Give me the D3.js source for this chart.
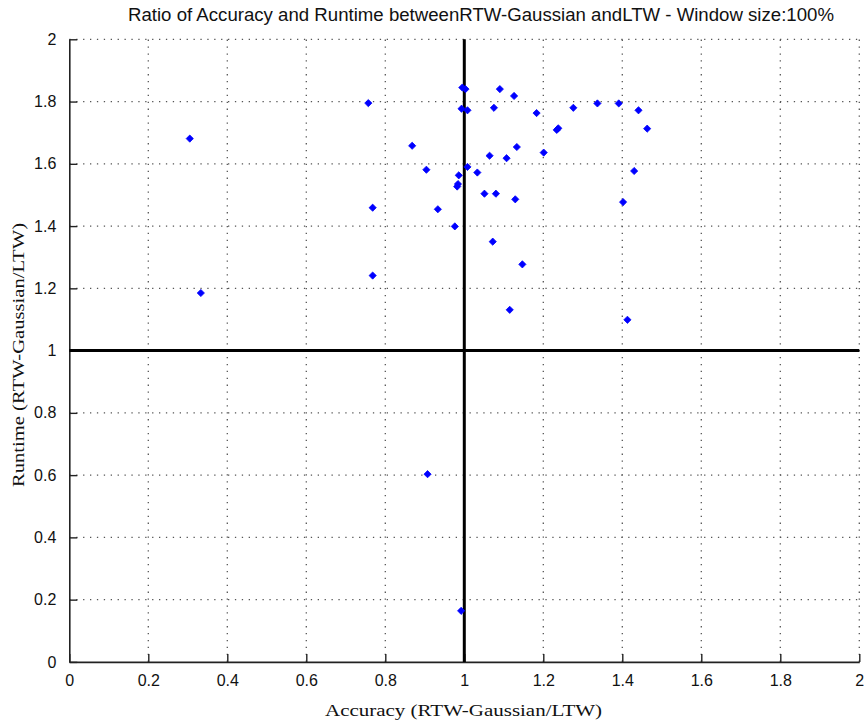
<!DOCTYPE html>
<html>
<head>
<meta charset="utf-8">
<script src="https://cdn.jsdelivr.net/npm/d3@7"></script>
<style>
  html, body { margin: 0; padding: 0; background: #fff; }
  svg { display: block; }
</style>
</head>
<body>
<svg id="chart" width="864" height="724"></svg>
<script>
// Accuracy ratio (x) and runtime ratio (y), RTW-Gaussian over LTW, one entry per dataset
const accuracy = [
  0.995, 1.003, 1.090, 1.126, 0.993, 1.008, 1.075, 1.183, 1.276, 1.337,
  1.391, 1.441, 1.234, 1.238, 1.463, 0.868, 1.133, 1.201, 1.064, 1.107,
  0.904, 1.008, 1.033, 1.430, 0.986, 0.984, 0.982, 1.051, 1.080, 1.129,
  1.402, 0.933, 0.976, 1.072, 1.147, 1.115, 1.413, 0.305, 0.757, 0.768,
  0.768, 0.333, 0.907, 0.992
];
const runtime = [
  1.845, 1.840, 1.840, 1.818, 1.777, 1.772, 1.780, 1.763, 1.780, 1.794,
  1.794, 1.772, 1.709, 1.714, 1.713, 1.658, 1.654, 1.636, 1.626, 1.618,
  1.581, 1.590, 1.572, 1.577, 1.563, 1.535, 1.527, 1.504, 1.504, 1.486,
  1.477, 1.454, 1.399, 1.350, 1.277, 1.131, 1.099, 1.681, 1.795, 1.459,
  1.241, 1.185, 0.603, 0.164
];
const xTicks = [0, 0.2, 0.4, 0.6, 0.8, 1, 1.2, 1.4, 1.6, 1.8, 2];
const yTicks = [0, 0.2, 0.4, 0.6, 0.8, 1, 1.2, 1.4, 1.6, 1.8, 2];
const refAccuracy = 1;   // break-even accuracy ratio
const refRuntime = 1;    // break-even runtime ratio

const titleText = "Ratio of Accuracy and Runtime betweenRTW-Gaussian andLTW - Window size:100%";
const xLabel = "Accuracy (RTW-Gaussian/LTW)";
const yLabel = "Runtime (RTW-Gaussian/LTW)";

(function draw() {
  const svg = d3.select("#chart");
  const plotLeft = 69.3, plotRight = 859.3, plotTop = 39.3, plotBottom = 661.9;

  const x = d3.scaleLinear().domain([0, 2]).range([plotLeft, plotRight]);
  const y = d3.scaleLinear().domain([0, 2]).range([plotBottom, plotTop]);

  const sans = "'Liberation Sans', Arial, Helvetica, sans-serif";
  const serif = "'Liberation Serif', 'Times New Roman', serif";

  // dotted grid
  const grid = svg.append("g").attr("stroke", "#555").attr("stroke-width", 1.3)
    .attr("stroke-dasharray", "1.3,5.6").attr("fill", "none");
  grid.selectAll("line.gx").data(xTicks.slice(1)).join("line")
    .attr("class", "gx")
    .attr("x1", d => x(d)).attr("x2", d => x(d))
    .attr("y1", plotBottom).attr("y2", plotTop);
  grid.selectAll("line.gy").data(yTicks.slice(1)).join("line")
    .attr("class", "gy")
    .attr("y1", d => y(d)).attr("y2", d => y(d))
    .attr("x1", plotLeft).attr("x2", plotRight);

  // axes with inward ticks
  const xAxis = d3.axisBottom(x).tickValues(xTicks).tickFormat(d3.format("~g"))
    .tickSizeInner(-8).tickSizeOuter(0).tickPadding(13);
  const yAxis = d3.axisLeft(y).tickValues(yTicks).tickFormat(d3.format("~g"))
    .tickSizeInner(-8).tickSizeOuter(0).tickPadding(13);

  const gx = svg.append("g").attr("transform", `translate(0,${plotBottom})`).call(xAxis);
  const gy = svg.append("g").attr("transform", `translate(${plotLeft},0)`).call(yAxis);
  [gx, gy].forEach(g => {
    g.select(".domain").attr("stroke", "#222").attr("stroke-width", 1.6);
    g.selectAll(".tick line").attr("stroke", "#222").attr("stroke-width", 1.4);
    g.selectAll(".tick text").attr("fill", "#111").style("font-family", sans).style("font-size", "16px");
  });

  // reference lines at ratio 1
  svg.append("line")
    .attr("x1", x(refAccuracy)).attr("x2", x(refAccuracy))
    .attr("y1", y(0)).attr("y2", y(2))
    .attr("stroke", "#000").attr("stroke-width", 3);
  svg.append("line")
    .attr("x1", x(0)).attr("x2", x(2))
    .attr("y1", y(refRuntime)).attr("y2", y(refRuntime))
    .attr("stroke", "#000").attr("stroke-width", 3);

  // data points
  const pts = accuracy.map((a, i) => ({ a, r: runtime[i] }));
  const diamond = "M0,-3.6L3.6,0L0,3.6L-3.6,0Z";
  svg.append("g").selectAll("path").data(pts).join("path")
    .attr("d", diamond)
    .attr("transform", d => `translate(${x(d.a)},${y(d.r)})`)
    .attr("fill", "#0000ff").attr("stroke", "#0000ff").attr("stroke-width", 0.8);

  // title and axis labels
  svg.append("text").attr("x", 481).attr("y", 21)
    .attr("text-anchor", "middle")
    .style("font-family", sans).style("font-size", "17.5px").attr("fill", "#111")
    .attr("textLength", 706).attr("lengthAdjust", "spacingAndGlyphs")
    .text(titleText);

  svg.append("text").attr("x", 463.5).attr("y", 716)
    .attr("text-anchor", "middle")
    .style("font-family", serif).style("font-size", "17px").attr("fill", "#111")
    .attr("textLength", 277).attr("lengthAdjust", "spacingAndGlyphs")
    .text(xLabel);

  svg.append("text")
    .attr("transform", "translate(24,355) rotate(-90)")
    .attr("text-anchor", "middle")
    .style("font-family", serif).style("font-size", "17px").attr("fill", "#111")
    .attr("textLength", 264).attr("lengthAdjust", "spacingAndGlyphs")
    .text(yLabel);
})();
</script>
</body>
</html>
